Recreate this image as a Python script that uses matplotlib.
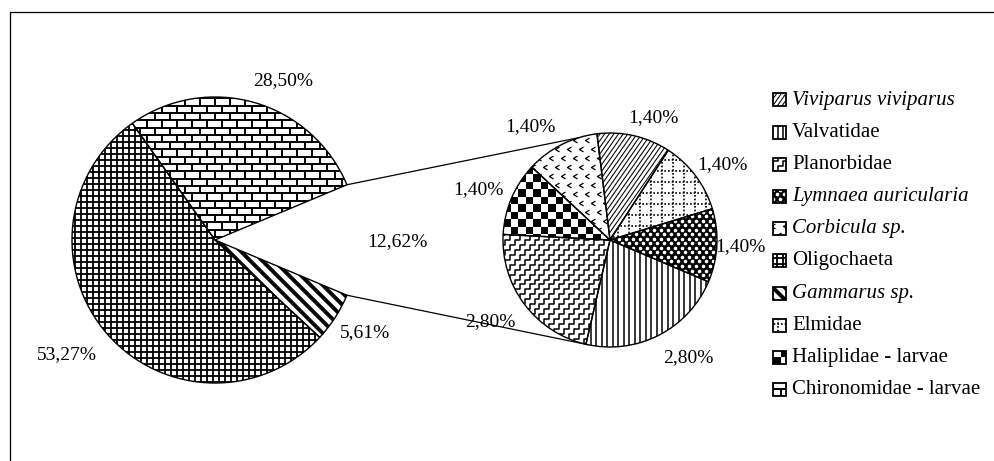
import numpy as np
import matplotlib
matplotlib.use('Agg')
import matplotlib.pyplot as plt
from matplotlib.collections import LineCollection, PolyCollection
from matplotlib.patches import Rectangle
from matplotlib.path import Path

plt.rcParams['font.family'] = ['Liberation Serif', 'DejaVu Serif']

# main pie, counter-clockwise starting with the slice that is broken out
main_names = ['other', 'Chironomidae - larvae', 'Oligochaeta', 'Gammarus sp.']
main_values = [12.62, 28.50, 53.27, 5.61]

# secondary pie, clockwise from the top
sub_names = ['Viviparus viviparus', 'Elmidae', 'Lymnaea auricularia', 'Valvatidae',
             'Planorbidae', 'Haliplidae - larvae', 'Corbicula sp.']
sub_values = [1.40, 1.40, 1.40, 2.80, 2.80, 1.40, 1.40]

legend_names = ['Viviparus viviparus', 'Valvatidae', 'Planorbidae', 'Lymnaea auricularia',
                'Corbicula sp.', 'Oligochaeta', 'Gammarus sp.', 'Elmidae',
                'Haliplidae - larvae', 'Chironomidae - larvae']
italic_names = {'Viviparus viviparus', 'Lymnaea auricularia', 'Corbicula sp.', 'Gammarus sp.'}

# layout (pixels, y measured from the top)
W, H = 994, 461
main_c, main_r = (215, 240), 143
sub_c, sub_r = (610, 240), 107
main_label_xy = [(397, 242), (283, 81), (67, 355), (365, 333)]
sub_label_xy = [(653, 118), (722, 165), (740, 247), (688, 358),
                (490, 322), (478, 190), (530, 127)]
link_angles = (107, -102)
legend_x, legend_y0, legend_dy, swatch = 773, 100, 32.2, 13


def fy(y):
    return H - y


def pct(v):
    return '{:.2f}%'.format(v).replace('.', ',')


def _add_lines(ax, patch, segs, lw, ls='-', color='black'):
    lc = LineCollection(segs, colors=color, linewidths=lw, linestyles=ls, zorder=2)
    ax.add_collection(lc, autolim=False)
    lc.set_clip_path(patch)


def hatch_lines(ax, patch, box, angle, step, lw, ls='-'):
    x0, y0, x1, y1 = box
    c = np.array([(x0 + x1) / 2, (y0 + y1) / 2])
    L = np.hypot(x1 - x0, y1 - y0) / 2 + step
    a = np.radians(angle)
    d = np.array([np.cos(a), np.sin(a)])
    n = np.array([-np.sin(a), np.cos(a)])
    segs = [[c + n * k - d * L, c + n * k + d * L] for k in np.arange(-L, L + step, step)]
    _add_lines(ax, patch, segs, lw, ls)


def p_grid(ax, patch, box):
    hatch_lines(ax, patch, box, 0, 6, 1.3)
    hatch_lines(ax, patch, box, 90, 6, 1.3)


def p_brick(ax, patch, box, h=7.3, bw=15):
    x0, y0, x1, y1 = box
    ys = np.arange(y0 - h, y1 + h, h)
    segs = [[(x0 - bw, y), (x1 + bw, y)] for y in ys]
    for i, y in enumerate(ys):
        for x in np.arange(x0 - bw + (i % 2) * bw / 2, x1 + bw, bw):
            segs.append([(x, y), (x, y + h)])
    _add_lines(ax, patch, segs, 1.4)


def p_bold_diag(ax, patch, box):
    hatch_lines(ax, patch, box, -45, 8.5, 2.8)


def p_fine_diag(ax, patch, box):
    hatch_lines(ax, patch, box, 55, 3.8, 0.75)


def p_vertical(ax, patch, box):
    hatch_lines(ax, patch, box, 90, 5.5, 1.1)


def p_dotted_grid(ax, patch, box):
    hatch_lines(ax, patch, box, 0, 11, 1.2, ls=(0, (1, 1.2)))
    hatch_lines(ax, patch, box, 90, 11, 1.2, ls=(0, (1, 1.2)))


def p_checker(ax, patch, box, s=7.5):
    x0, y0, x1, y1 = box
    polys = []
    for i, x in enumerate(np.arange(x0 - s, x1 + s, s)):
        for j, y in enumerate(np.arange(y0 - s, y1 + s, s)):
            if (i + j) % 2 == 0:
                polys.append([(x, y), (x + s, y), (x + s, y + s), (x, y + s)])
    pc = PolyCollection(polys, facecolors='black', edgecolors='none', zorder=2)
    ax.add_collection(pc, autolim=False)
    pc.set_clip_path(patch)


def _stagger(box, sx, sy):
    x0, y0, x1, y1 = box
    xs, ys = [], []
    for i, y in enumerate(np.arange(y0 - sy, y1 + sy, sy)):
        for x in np.arange(x0 - sx + (i % 2) * sx / 2, x1 + sx, sx):
            xs.append(x)
            ys.append(y)
    return xs, ys


def p_dark_dots(ax, patch, box):
    x0, y0, x1, y1 = box
    bg = Rectangle((x0, y0), x1 - x0, y1 - y0, fc='black', ec='none', zorder=2)
    ax.add_patch(bg)
    bg.set_clip_path(patch)
    xs, ys = _stagger(box, 7, 4.5)
    ln, = ax.plot(xs, ys, ls='none', marker='o', ms=2.6, mfc='white', mew=0, zorder=2)
    ln.set_clip_path(patch)


CHEVRON = Path([(0.5, 0.6), (-0.5, 0), (0.5, -0.6)], [Path.MOVETO, Path.LINETO, Path.LINETO])


def p_chevrons(ax, patch, box):
    xs, ys = _stagger(box, 12, 9)
    ln, = ax.plot(xs, ys, ls='none', marker=CHEVRON, ms=3.5, mfc='none', mec='black',
                  mew=0.9, zorder=2)
    ln.set_clip_path(patch)


def p_zigzag(ax, patch, box, step=7, amp=3.5):
    x0, y0, x1, y1 = box
    c = np.array([(x0 + x1) / 2, (y0 + y1) / 2])
    L = np.hypot(x1 - x0, y1 - y0) / 2 + step
    a = np.radians(45)
    d = np.array([np.cos(a), np.sin(a)])
    n = np.array([-np.sin(a), np.cos(a)])
    u = np.arange(-L, L, amp)
    wave = np.where(np.arange(len(u)) % 2 == 0, amp / 2, -amp / 2)
    segs = []
    for k in np.arange(-L, L + step, step):
        pts = c + np.outer(u, d) + np.outer(k + wave, n)
        segs.append(pts)
    _add_lines(ax, patch, segs, 1.1)


patterns = {
    'Chironomidae - larvae': p_brick,
    'Oligochaeta': p_grid,
    'Gammarus sp.': p_bold_diag,
    'Viviparus viviparus': p_fine_diag,
    'Elmidae': p_dotted_grid,
    'Lymnaea auricularia': p_dark_dots,
    'Valvatidae': p_vertical,
    'Planorbidae': p_zigzag,
    'Haliplidae - larvae': p_checker,
    'Corbicula sp.': p_chevrons,
}

fig = plt.figure(figsize=(W / 100, H / 100), dpi=100)
ax = fig.add_axes([0, 0, 1, 1])

edge = dict(fc='none', ec='black', lw=1.0, zorder=3)
main_w, _ = ax.pie(main_values, startangle=-main_values[0] * 3.6 / 2, counterclock=True,
                   center=(main_c[0], fy(main_c[1])), radius=main_r,
                   wedgeprops=edge, frame=True)
sub_w, _ = ax.pie(sub_values, startangle=97, counterclock=False,
                  center=(sub_c[0], fy(sub_c[1])), radius=sub_r,
                  wedgeprops=edge, frame=True)

main_box = (main_c[0] - main_r, fy(main_c[1]) - main_r, main_c[0] + main_r, fy(main_c[1]) + main_r)
sub_box = (sub_c[0] - sub_r, fy(sub_c[1]) - sub_r, sub_c[0] + sub_r, fy(sub_c[1]) + sub_r)

other = main_w[0]
other.set_visible(False)
for name, w in zip(main_names[1:], main_w[1:]):
    patterns[name](ax, w, main_box)
for name, w in zip(sub_names, sub_w):
    patterns[name](ax, w, sub_box)

# value labels
for v, (x, y) in zip(main_values, main_label_xy):
    ax.text(x, fy(y), pct(v), ha='center', va='center', fontsize=14)
for v, (x, y) in zip(sub_values, sub_label_xy):
    ax.text(x, fy(y), pct(v), ha='center', va='center', fontsize=14)

# lines joining the broken-out slice to the secondary pie
for t_main, t_sub in zip((other.theta2, other.theta1), link_angles):
    a, b = np.radians(t_main), np.radians(t_sub)
    ax.plot([main_c[0] + main_r * np.cos(a), sub_c[0] + sub_r * np.cos(b)],
            [fy(main_c[1]) + main_r * np.sin(a), fy(sub_c[1]) + sub_r * np.sin(b)],
            color='black', lw=0.9, zorder=3)

# legend
for i, name in enumerate(legend_names):
    y = fy(legend_y0 + i * legend_dy)
    box = (legend_x, y - swatch / 2, legend_x + swatch, y + swatch / 2)
    sw = Rectangle((box[0], box[1]), swatch, swatch, fc='none', ec='black', lw=1.3, zorder=3)
    ax.add_patch(sw)
    patterns[name](ax, sw, box)
    ax.text(legend_x + swatch + 6, y, name, ha='left', va='center', fontsize=15,
            style='italic' if name in italic_names else 'normal')

# chart area border
ax.plot([10, 10, W], [0, fy(12), fy(12)], color='black', lw=0.9)

ax.set_xlim(0, W)
ax.set_ylim(0, H)
ax.set_aspect('equal')
ax.axis('off')
fig.savefig('out.png', dpi=100)
